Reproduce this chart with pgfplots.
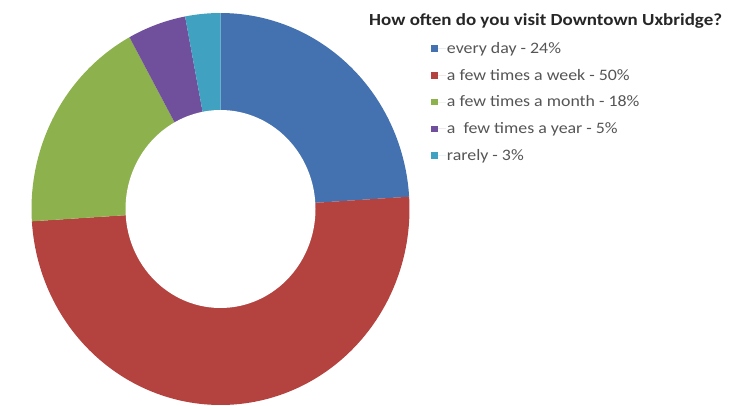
\documentclass[border=0pt]{standalone}
\usepackage{pgfplots}
\pgfplotsset{compat=1.18}
\usepackage{pgfplotstable}
\usepackage{fontspec}
\setmainfont{Carlito}[FakeStretch=1.12]
\definecolor{cA}{RGB}{68,114,176}
\definecolor{cB}{RGB}{180,66,63}
\definecolor{cC}{RGB}{141,177,76}
\definecolor{cD}{RGB}{112,80,156}
\definecolor{cE}{RGB}{64,162,192}
\definecolor{legtext}{RGB}{85,85,85}
\pgfplotstableread{
pct
24
50
18
5
3
}\datatable
\begin{document}
\begin{tikzpicture}
\pgfplotstablegetelem{0}{pct}\of\datatable \pgfmathsetmacro\pA{\pgfplotsretval}
\pgfplotstablegetelem{1}{pct}\of\datatable \pgfmathsetmacro\pB{\pgfplotsretval}
\pgfplotstablegetelem{2}{pct}\of\datatable \pgfmathsetmacro\pC{\pgfplotsretval}
\pgfplotstablegetelem{3}{pct}\of\datatable \pgfmathsetmacro\pD{\pgfplotsretval}
\pgfplotstablegetelem{4}{pct}\of\datatable \pgfmathsetmacro\pE{\pgfplotsretval}
\pgfmathsetmacro\aA{90}
\pgfmathsetmacro\aB{\aA-3.6*\pA}
\pgfmathsetmacro\aC{\aB-3.6*\pB}
\pgfmathsetmacro\aD{\aC-3.6*\pC}
\pgfmathsetmacro\aE{\aD-3.6*\pD}
\pgfmathsetmacro\aF{\aE-3.6*\pE}
\def\cx{220.5}\def\cy{209}\def\rx{189}\def\ry{196}\def\hx{95}\def\hy{99}
\begin{axis}[
  width=735bp, height=406bp, scale only axis,
  xmin=0, xmax=735, ymin=0, ymax=406, y dir=reverse,
  hide axis, clip=false,
  legend cell align=left,
  legend style={draw=none, fill=none, at={(axis cs:431,41.5)}, anchor=north west,
    font=\fontsize{16}{18}\selectfont, text=legtext, row sep=12.6pt,
    inner sep=0pt, nodes={inner sep=0.8pt}},
  legend image code/.code={\fill[#1,draw=none] (0pt,-3.3pt) rectangle (6.6pt,3.3pt);
    \path (0pt,0pt) -- (15pt,0pt);},
]
\addplot[draw=none, forget plot] coordinates {(0,0) (735,406)};
\addplot[fill=cA, draw=none, domain=\aB:\aA, samples=80]
  ({\cx+\rx*cos(x)},{\cy-\ry*sin(x)}) -- (axis cs:\cx,\cy) -- cycle;
\addlegendentry{every day - 24\%}
\addplot[fill=cB, draw=none, domain=\aC:\aB, samples=120]
  ({\cx+\rx*cos(x)},{\cy-\ry*sin(x)}) -- (axis cs:\cx,\cy) -- cycle;
\addlegendentry{a few times a week - 50\%}
\addplot[fill=cC, draw=none, domain=\aD:\aC, samples=60]
  ({\cx+\rx*cos(x)},{\cy-\ry*sin(x)}) -- (axis cs:\cx,\cy) -- cycle;
\addlegendentry{a few times a month - 18\%}
\addplot[fill=cD, draw=none, domain=\aE:\aD, samples=30]
  ({\cx+\rx*cos(x)},{\cy-\ry*sin(x)}) -- (axis cs:\cx,\cy) -- cycle;
\addlegendentry{a\ \ few times a year - 5\%}
\addplot[fill=cE, draw=none, domain=\aF:\aE, samples=20]
  ({\cx+\rx*cos(x)},{\cy-\ry*sin(x)}) -- (axis cs:\cx,\cy) -- cycle;
\addlegendentry{rarely - 3\%}
\addplot[fill=white, draw=none, domain=0:360, samples=120, forget plot]
  ({\cx+\hx*cos(x)},{\cy-\hy*sin(x)}) -- cycle;
\node[anchor=west, font=\bfseries\fontsize{17}{19}\selectfont, text=black!85, inner sep=0pt]
  at (axis cs:369,21) {How often do you visit Downtown Uxbridge?};
\end{axis}
\end{tikzpicture}
\end{document}
